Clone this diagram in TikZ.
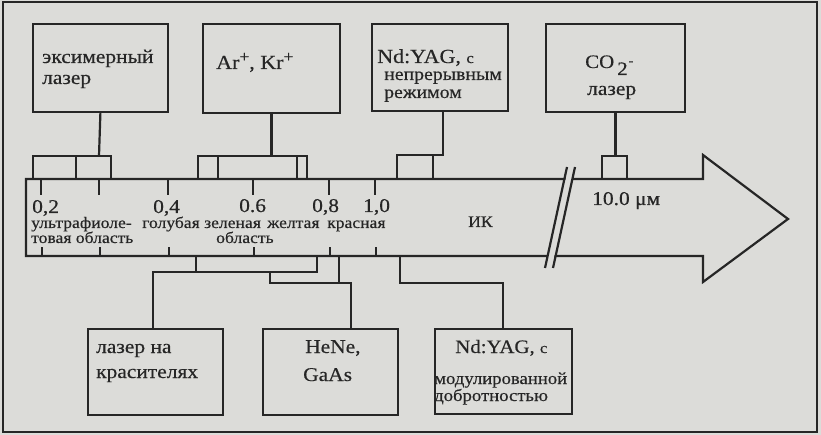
\documentclass[tikz,border=0pt]{standalone}
\usepackage{fontspec}
\setmainfont{Liberation Serif}[FakeStretch=1.1,FakeBold=0.4]
\definecolor{paper}{HTML}{DCDCD9}
\definecolor{ink}{HTML}{262626}
\newcommand{\fsz}[1]{\fontsize{#1}{#1}\selectfont}
\begin{document}
\begin{tikzpicture}[x=1pt,y=-1pt,
  frame/.style={draw=ink,line width=1.4pt},
  box/.style={draw=ink,line width=1.8pt,anchor=north west,inner sep=0pt,rectangle},
  ln/.style={draw=ink,line width=2.2pt},
  txt/.style={inner sep=0pt,anchor=base west,text=ink},
  big/.style={txt,font=\fsz{19.5}},
  mid/.style={txt,font=\fsz{16}},
  small/.style={txt,font=\fsz{17}}]
\path[fill=paper] (0,0) rectangle (821,435);
\useasboundingbox (0,0) rectangle (821,435);
\draw[frame] (3,2) rectangle (817,432);

% spectrum arrow
\draw[ln,line join=miter] (26,179) -- (703,179) -- (703,155) -- (788,219) -- (703,282) -- (703,256) -- (26,256) -- cycle;
\fill[paper] (567.5,171) -- (574.5,171) -- (552.5,264) -- (545.5,264) -- cycle;
\draw[ln] (567,167) -- (545,268);
\draw[ln] (575,167) -- (553,268);

% ticks
\foreach \x in {41,99,168,253,329,375} {
  \draw[ln] (\x,179) -- (\x,195);
  \draw[ln] (\x+1,256) -- (\x+1,247);
}

% top boxes
\node[box,minimum width=135pt,minimum height=88pt] (exc) at (32,23) {};
\node[box,minimum width=137pt,minimum height=89pt] (ar) at (202,23) {};
\node[box,minimum width=136pt,minimum height=87pt] (ndcw) at (371,23) {};
\node[box,minimum width=139pt,minimum height=88pt] (co2) at (545,23) {};
% bottom boxes
\node[box,minimum width=135pt,minimum height=86pt] (dye) at (87,328) {};
\node[box,minimum width=135pt,minimum height=86pt] (hene) at (262,328) {};
\node[box,minimum width=137pt,minimum height=85pt] (ndq) at (434,328) {};

% top brackets
\coordinate (excb) at (99,156);
\draw[ln] (exc.south) -- (excb);
\draw[ln] (33,179) |- (111,156) -- (111,179);
\draw[ln] (76,156) -- (76,179);

\coordinate (arb) at (ar.south |- 0,156);
\draw[ln] (ar.south) -- (arb);
\draw[ln] (198,179) |- (307,156) -- (307,179);
\draw[ln] (218,156) -- (218,179);
\draw[ln] (297,156) -- (297,179);

\coordinate (ndtop) at ([xshift=3pt]ndcw.south);
\draw[ln] (ndtop) -- (ndtop |- 0,155) -- (397,155) -- (397,179);
\draw[ln] (433,155) -- (433,179);

\coordinate (cob) at (co2.south |- 0,156);
\draw[ln] (co2.south) -- (cob);
\draw[ln] (602,179) -- (602,156) -- (627,156) -- (627,179);

% bottom brackets
\coordinate (dyetop) at ([xshift=-2.5pt]dye.north);
\draw[ln] (196,256) -- (196,272);
\draw[ln] (317,256) -- (317,272) -- (dyetop |- 0,272) -- (dyetop);
\coordinate (henetop) at ([xshift=20.5pt]hene.north);
\draw[ln] (339,256) -- (339,283);
\draw[ln] (270,272) -- (270,283) -- (henetop |- 0,283) -- (henetop);
\coordinate (ndqtop) at ([xshift=-0.5pt]ndq.north);
\draw[ln] (400,256) -- (400,283) -- (ndqtop |- 0,283) -- (ndqtop);

% box texts
\node[big] (t1) at (42,63) {эксимерный};
\node[big] (t2) at (42,84) {лазер};
\node[txt,font=\fsz{20}] (t3) at (216,69) {Ar\raisebox{7pt}{\fsz{16}+}, Kr\raisebox{7pt}{\fsz{16}+}};
\node[txt,font=\fsz{20}] (t4) at (377,63) {Nd:YAG, {\fsz{15}с}};
\node[txt,font=\fsz{18}] (t5) at (384,80) {непрерывным};
\node[txt,font=\fsz{18}] (t6) at (384,98) {режимом};
\node[txt,font=\fsz{19}] (t7) at (585,68) {CO\hspace{3pt}\raisebox{-7pt}{2}\hspace{1pt}\raisebox{3pt}{\fsz{13}-}};
\node[big] (t8) at (587,95) {лазер};

\node[big] (b1) at (96,353) {лазер на};
\node[big] (b2) at (96,378) {красителях};
\node[big] (b3) at (305,353) {HeNe,};
\node[big] (b4) at (303,381) {GaAs};
\node[txt,font=\fsz{19}] (b5) at (455,353) {Nd:YAG, {\fsz{15}с}};
\node[small] (b6) at (434,384) {модулированной};
\node[small] (b7) at (434,401) {добротностью};

% scale labels
\node[big] (n1) at (32,213) {0,2};
\node[big] (n2) at (153,213) {0,4};
\node[big] (n3) at (239,212) {0.6};
\node[big] (n4) at (312,212) {0,8};
\node[big] (n5) at (363,212) {1,0};
\node[big] (n6) at (592,205) {10.0 μм};

\node[mid] (r1) at (31,228) {ультрафиоле-};
\node[mid] (r2) at (31,243) {товая область};
\node[mid] (r3) at (142,228) {голубая};
\node[mid] (r4) at (204,228) {зеленая};
\node[mid] (r5) at (267,228) {желтая};
\node[mid] (r6) at (327,228) {красная};
\node[mid] (r7) at (216,243) {область};
\node[mid] (r8) at (468,227) {ИК};
\end{tikzpicture}
\end{document}
